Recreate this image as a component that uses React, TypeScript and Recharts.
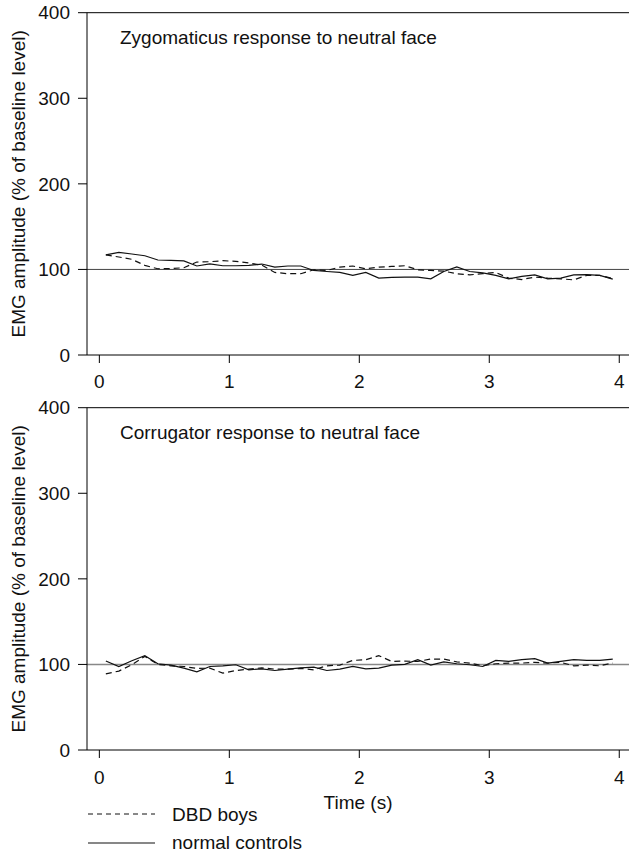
import React from 'react';
import { LineChart, Line, XAxis, YAxis, ReferenceLine } from 'recharts';

// time points (s)
const times = [
  0.05, 0.15, 0.25, 0.35, 0.45, 0.55, 0.65, 0.75, 0.85, 0.95,
  1.05, 1.15, 1.25, 1.35, 1.45, 1.55, 1.65, 1.75, 1.85, 1.95,
  2.05, 2.15, 2.25, 2.35, 2.45, 2.55, 2.65, 2.75, 2.85, 2.95,
  3.05, 3.15, 3.25, 3.35, 3.45, 3.55, 3.65, 3.75, 3.85, 3.95,
];

// Zygomaticus, % of baseline
const zygoDbd = [
  117, 114.5, 111.8, 104.7, 100.8, 101, 102, 108.6, 109, 110.2,
  109.4, 107.5, 105, 96.5, 95, 95, 99.6, 98.8, 102.7, 104,
  100.8, 102.7, 103.5, 104.3, 99.6, 98.8, 98, 95, 93.7, 95,
  96.5, 89.8, 88.2, 91, 89.8, 89, 87.8, 93, 93, 89.4,
];
const zygoControls = [
  117, 120, 118, 116, 111, 110.5, 110, 104, 106.5, 104.3,
  104.3, 104.7, 106.3, 102.7, 104, 104, 98.8, 97.6, 96.5, 93,
  96.5, 89.8, 90.6, 91, 91, 89, 97.6, 103, 97.6, 96,
  93, 89, 91.8, 93.7, 89, 89.8, 93.7, 94, 93, 88.6,
];

// Corrugator, % of baseline
const corrDbd = [
  89, 92.2, 99.6, 109.4, 100, 98.4, 97.6, 95.3, 95.7, 89.8,
  92.9, 94.5, 96, 94.5, 94.5, 95.3, 93.7, 98.4, 99.2, 104.7,
  105.5, 110.2, 103.5, 103.9, 103.5, 106.3, 106.3, 103, 101.6, 98.4,
  100.8, 101.6, 101.6, 102.4, 101.6, 102.4, 98.4, 99.2, 98.4, 101.6,
];
const corrControls = [
  104, 97.6, 104.3, 110.2, 100.8, 99.2, 95.7, 91.4, 97.6, 98.4,
  99.6, 93.7, 94.9, 92.9, 94.5, 96, 96.9, 92.9, 94.5, 97.6,
  94.9, 95.7, 99.2, 100, 105.5, 99.2, 103, 100.8, 99.6, 97.6,
  104.7, 103.5, 105.5, 106.7, 101.6, 103.5, 105.5, 104.7, 104.7, 106.3,
];

const xTicks = [0, 1, 2, 3, 4];
const yTicks = [0, 100, 200, 300, 400];

const FONT = '"Liberation Sans", Arial, Helvetica, sans-serif';
const yLabel = 'EMG amplitude (% of baseline level)';

const buildRows = (dbd: number[], ctl: number[]) =>
  times.map((t, i) => ({ t, dbd: dbd[i], ctl: ctl[i] }));

interface PanelProps {
  dbd: number[];
  ctl: number[];
  height: number;
  axisHeight: number;
  tickMargin: number;
  refColor: string;
  refWidth: number;
  showTimeLabel?: boolean;
}

function Panel({ dbd, ctl, height, axisHeight, tickMargin, refColor, refWidth, showTimeLabel }: PanelProps) {
  const rows = buildRows(dbd, ctl);
  return (
    <LineChart
      width={629}
      height={height}
      data={rows}
      margin={{ top: 12.7, right: 0, left: 0, bottom: 0 }}
    >
      <XAxis
        dataKey="t"
        type="number"
        domain={[-0.095, 4.075]}
        ticks={xTicks}
        allowDataOverflow
        height={axisHeight}
        tickSize={8}
        tickMargin={tickMargin}
        axisLine={{ stroke: '#000', strokeWidth: 1 }}
        tickLine={{ stroke: '#000' }}
        tick={{ fill: '#111', fontSize: 19 }}
        label={
          showTimeLabel
            ? { value: 'Time (s)', position: 'insideBottom', offset: 6, fill: '#111', fontSize: 19 }
            : undefined
        }
      />
      <YAxis
        domain={[0, 400]}
        ticks={yTicks}
        width={87}
        tickSize={9}
        tickMargin={8}
        axisLine={{ stroke: '#000', strokeWidth: 1 }}
        tickLine={{ stroke: '#000' }}
        tick={{ fill: '#111', fontSize: 19 }}
        label={{ value: yLabel, angle: -90, position: 'center', dx: -25, fill: '#111', fontSize: 19 }}
      />
      <ReferenceLine y={400} stroke="#000" strokeWidth={1} />
      <ReferenceLine y={100} stroke={refColor} strokeWidth={refWidth} />
      <Line
        type="linear"
        dataKey="dbd"
        stroke="#111"
        strokeWidth={1.2}
        strokeDasharray="6 4"
        dot={false}
        isAnimationActive={false}
      />
      <Line
        type="linear"
        dataKey="ctl"
        stroke="#111"
        strokeWidth={1.2}
        dot={false}
        isAnimationActive={false}
      />
    </LineChart>
  );
}

export default function App() {
  return (
    <div
      style={{
        position: 'absolute',
        left: 0,
        top: 0,
        width: 629,
        height: 852,
        background: '#fff',
        fontFamily: FONT,
      }}
    >
      <div style={{ position: 'absolute', left: 0, top: 0 }}>
        <Panel
          dbd={zygoDbd}
          ctl={zygoControls}
          height={395}
          axisHeight={40}
          tickMargin={12}
          refColor="#444"
          refWidth={1}
        />
      </div>
      <div style={{ position: 'absolute', left: 0, top: 395 }}>
        <Panel
          dbd={corrDbd}
          ctl={corrControls}
          height={420}
          axisHeight={65}
          tickMargin={13}
          refColor="#888"
          refWidth={1.5}
          showTimeLabel
        />
      </div>
      {/* panel titles and legend */}
      <svg
        width={629}
        height={852}
        style={{ position: 'absolute', left: 0, top: 0, pointerEvents: 'none' }}
      >
        <text x={120} y={43.5} fontSize={19} fill="#111">
          Zygomaticus response to neutral face
        </text>
        <text x={120} y={438.5} fontSize={19} fill="#111">
          Corrugator response to neutral face
        </text>
        <line x1={88} y1={814} x2={155} y2={814} stroke="#111" strokeWidth={1} strokeDasharray="5 4" />
        <text x={172} y={821} fontSize={19} fill="#111">
          DBD boys
        </text>
        <line x1={88} y1={843} x2={155} y2={843} stroke="#111" strokeWidth={1.2} />
        <text x={172} y={849} fontSize={19} fill="#111">
          normal controls
        </text>
      </svg>
    </div>
  );
}
